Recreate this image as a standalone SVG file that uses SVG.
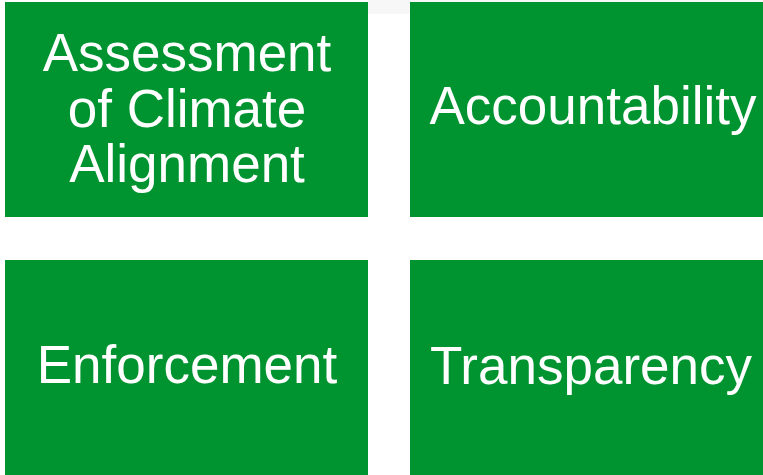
<svg xmlns="http://www.w3.org/2000/svg" width="763" height="475" viewBox="0 0 763 475">
<style>
.box{fill:#009431;}
.lbl{fill:#ffffff;font-family:"Liberation Sans",Arial,sans-serif;font-size:53px;text-anchor:middle;}
</style>
<rect x="0" y="0" width="763" height="475" fill="#ffffff"/>
<rect x="368" y="0" width="395" height="14" fill="#f7f7f7"/>
<g id="node-assessment">
<rect class="box" x="5" y="2" width="363" height="215"/>
<text class="lbl" x="187" y="71">Assessment</text>
<text class="lbl" x="187" y="127">of Climate</text>
<text class="lbl" x="187" y="182">Alignment</text>
</g>
<g id="node-accountability">
<rect class="box" x="410" y="2" width="353" height="215"/>
<text class="lbl" x="593" y="124">Accountability</text>
</g>
<g id="node-enforcement">
<rect class="box" x="5" y="260" width="363" height="215"/>
<text class="lbl" x="187" y="383">Enforcement</text>
</g>
<g id="node-transparency">
<rect class="box" x="410" y="260" width="353" height="215"/>
<text class="lbl" x="591" y="384">Transparency</text>
</g>
<g id="connectors"></g>
</svg>
